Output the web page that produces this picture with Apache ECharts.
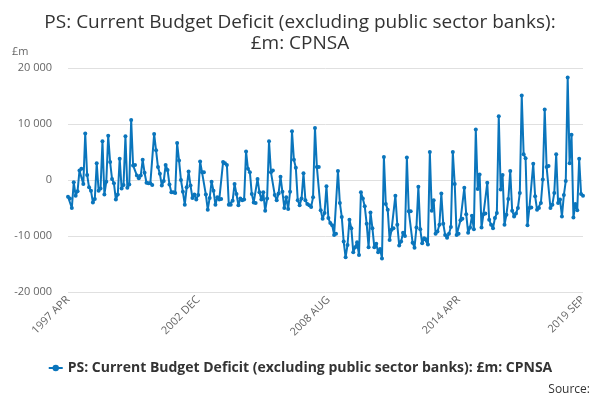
<!DOCTYPE html>
<html>
<head>
<meta charset="utf-8">
<script src="https://cdn.jsdelivr.net/npm/echarts@6/dist/echarts.min.js"></script>
<style>html,body{margin:0;padding:0;background:#fff}#c{width:600px;height:400px}</style>
</head>
<body>
<div id="c"></div>
<script>
var seriesName = 'PS: Current Budget Deficit (excluding public sector banks): £m: CPNSA';
var startYear = 1997, startMonth = 3; // APR
var monthNames = ['JAN','FEB','MAR','APR','MAY','JUN','JUL','AUG','SEP','OCT','NOV','DEC'];
var yTicks = [-20000, -10000, 0, 10000, 20000];
var deficit = [
  -3000, -3300, -5000, -400, -2800, -2000, 1700, 2000, -700, 8300, 900, -1300,
  -1900, -4000, -3400, 3000, -1900, -1500, 6900, -2600, -300, 7900, 3200, 200,
  -600, -3500, -2600, 3800, -1500, -900, 7800, -1400, -800, 10700, 2600, 2700,
  800, 300, 800, 3600, 1300, -500, -600, -600, -900, 8200, 5300, 2300,
  1100, -1000, -200, 2700, 1800, -800, -2200, -2200, -2300, 6600, 3500, 0,
  -2100, -4400, -1300, 1500, -1000, -3200, -2600, -3500, -2700, 3300, 1400, 1400,
  -2600, -5300, -3200, -300, -1900, -4400, -3100, -3500, -3400, 3200, 3000, 2700,
  -4400, -4400, -3700, -700, -2500, -4500, -3300, -3600, -3500, 5100, 2000, 1400,
  -2500, -4000, -4100, 200, -2200, -3500, -2200, -5500, -3300, 6900, 1400, 1700,
  -2700, -3600, -2400, 600, -2100, -5000, -3100, -5200, -2100, 8700, 3600, 2200,
  -3600, -4500, -3300, 1200, -3600, -4300, -4500, -4800, -3100, 9300, 2300, 2300,
  -5400, -6900, -5900, -1100, -6800, -7700, -8100, -9800, -9600, 1600, -4100, -6600,
  -11000, -13800, -11600, -7100, -8600, -12900, -12000, -11100, -13400, -2200, -3300, -4700,
  -7800, -12000, -5800, -8600, -12000, -11400, -12900, -12300, -14000, 4100, -4300, -5300,
  -10700, -8900, -8600, -2800, -8000, -11700, -11000, -9400, -10000, 4000, -5600, -5600,
  -11200, -12100, -8500, -1200, -8800, -11300, -10400, -10600, -11500, 5000, -5500, -3600,
  -9600, -9200, -8000, -2400, -7800, -9800, -10300, -9600, -8400, 5000, -700, -9800,
  -9600, -7200, -6900, -1400, -6100, -9400, -8500, -6400, -8800, 9000, -1600, 1000,
  -8500, -6100, -6000, -500, -7100, -8000, -8600, -6800, -5900, 11400, -1700, 900,
  -8000, -6200, -3400, 1600, -5500, -6500, -6000, -5000, -2300, 15100, 4600, 3900,
  -8100, -5000, -4900, 2900, -2900, -5300, -5000, -4100, 100, 12600, 2300, 2500,
  -5000, -4400, -2300, 4600, -4100, -3500, -6500, -2700, -200, 18300, 3000, 8100,
  -6700, -4300, -5400, 3800, -2500, -2800
];
var categories = [];
for (var i = 0; i < deficit.length; i++) {
  var m = startMonth + i;
  categories.push((startYear + Math.floor(m / 12)) + ' ' + monthNames[m % 12]);
}
var lastIdx = categories.length - 1;

var chart = echarts.init(document.getElementById('c'), null, {renderer: 'canvas'});
chart.setOption({
  animation: false,
  backgroundColor: '#fff',
  title: {
    text: 'PS: Current Budget Deficit (excluding public sector banks):\n£m: CPNSA',
    left: 'center', top: 7,
    textStyle: {fontFamily: 'Open Sans', fontSize: 19, fontWeight: 'normal', color: '#333', lineHeight: 21}
  },
  grid: {left: 68, right: 17, top: 68, bottom: 108},
  legend: {
    bottom: 20, left: 'center',
    itemWidth: 14, itemHeight: 8, itemGap: 6,
    textStyle: {fontFamily: 'Open Sans', fontSize: 14, fontWeight: 'bold', color: '#333'},
    data: [seriesName]
  },
  graphic: [
    {type: 'text', left: 12, top: 46, style: {text: '£m', fontFamily: 'Open Sans', fontSize: 11, fill: '#666'}},
    {type: 'text', right: 10, top: 384, style: {text: 'Source:', fontFamily: 'Open Sans', fontSize: 12, fill: '#333'}}
  ],
  xAxis: {
    type: 'category',
    data: categories,
    boundaryGap: false,
    axisLine: {show: false},
    axisTick: {show: false},
    axisLabel: {
      rotate: 45,
      fontFamily: 'Open Sans', fontSize: 11, color: '#666',
      margin: 6,
      interval: function (idx) { return idx % 68 === 0 || idx === lastIdx; }
    }
  },
  yAxis: {
    type: 'value',
    min: yTicks[0], max: yTicks[yTicks.length - 1], interval: 10000,
    axisLine: {show: false},
    axisTick: {show: false},
    splitLine: {lineStyle: {color: '#e0e0e0', width: 1}},
    axisLabel: {
      fontFamily: 'Open Sans', fontSize: 11, color: '#666', margin: 16,
      formatter: function (v) { return String(v).replace(/\B(?=(\d{3})+(?!\d))/g, ' '); }
    }
  },
  series: [{
    name: seriesName,
    type: 'line',
    data: deficit,
    symbol: 'circle',
    symbolSize: 4,
    showAllSymbol: true,
    lineStyle: {color: '#0a75bc', width: 2},
    itemStyle: {color: '#0a75bc'}
  }]
});
</script>
</body>
</html>
